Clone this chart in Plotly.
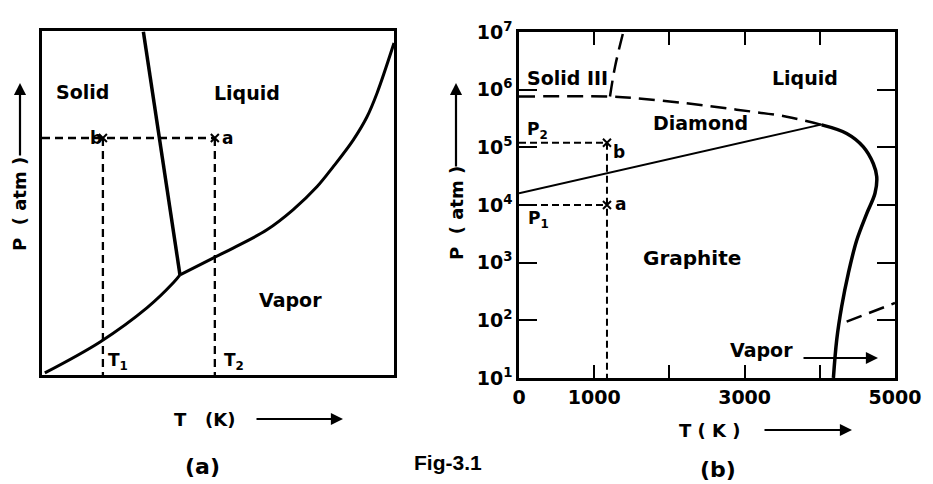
import math
import plotly.graph_objects as go

W, H = 933, 484
FONT = "DejaVu Sans"

# ---------- Panel (a): generic phase diagram (arbitrary units 0..10) ----------
a_melt_x = [2.88, 3.92]
a_melt_y = [9.98, 2.91]
a_subl_x = [0.08, 1.65, 2.98, 3.73, 3.92]
a_subl_y = [0.06, 0.96, 1.95, 2.68, 2.91]
a_vap_x = [3.92, 4.86, 5.43, 6.39, 7.13, 7.81, 8.27, 8.84, 9.23, 9.52, 10.0]
a_vap_y = [2.91, 3.40, 3.69, 4.22, 4.80, 5.47, 6.05, 6.83, 7.50, 8.20, 9.65]
a_P = 6.89
a_T1 = 1.73
a_T2 = 4.91

# ---------- Panel (b): carbon phase diagram ----------
b_gd_T = [0, 4030]
b_gd_P = [1.6e4, 2.5e5]
b_upper_T = [0, 1210, 1565, 2230, 2895, 3560, 4025]
b_upper_P = [7.6e5, 7.6e5, 7.1e5, 5.8e5, 4.5e5, 3.4e5, 2.45e5]
b_s3_T = [1210, 1277, 1387]
b_s3_P = [7.6e5, 2.5e6, 1.0e7]
b_melt_T = [4025, 4357, 4579, 4712, 4757, 4734, 4624, 4491, 4380, 4291, 4225, 4181]
b_melt_P = [2.45e5, 1.74e5, 1.02e5, 5.2e4, 3.1e4, 1.6e4, 7.1e3, 2.45e3, 660, 174, 46, 10]
b_vapdash_T = [4357, 5000]
b_vapdash_P = [95, 200]
b_T = 1170
b_P1 = 1.0e4
b_P2 = 1.2e5

x_tickvals = [0, 1000, 2000, 3000, 4000, 5000]
x_ticktext = ["0", "1000", "", "3000", "", "5000"]
y_tickvals = [1e1, 1e2, 1e3, 1e4, 1e5, 1e6, 1e7]
y_ticktext = ["10<sup>%d</sup>" % k for k in range(1, 8)]

fig = go.Figure()

dash_a = dict(color="black", width=2.3, dash="8px,5px")
dash_b = dict(color="black", width=2, dash="7px,4px")
bigdash = dict(color="black", width=2.5, dash="16px,8px")

# panel a traces
fig.add_trace(go.Scatter(x=a_melt_x, y=a_melt_y, mode="lines", line=dict(color="black", width=3.5), xaxis="x", yaxis="y"))
fig.add_trace(go.Scatter(x=a_subl_x, y=a_subl_y, mode="lines", line=dict(color="black", width=3, shape="spline"), xaxis="x", yaxis="y"))
fig.add_trace(go.Scatter(x=a_vap_x, y=a_vap_y, mode="lines", line=dict(color="black", width=3, shape="spline"), xaxis="x", yaxis="y"))
fig.add_trace(go.Scatter(x=[0, a_T2], y=[a_P, a_P], mode="lines", line=dash_a, xaxis="x", yaxis="y"))
fig.add_trace(go.Scatter(x=[a_T1, a_T1], y=[a_P, 0], mode="lines", line=dash_a, xaxis="x", yaxis="y"))
fig.add_trace(go.Scatter(x=[a_T2, a_T2], y=[a_P, 0], mode="lines", line=dash_a, xaxis="x", yaxis="y"))
fig.add_trace(go.Scatter(x=[a_T1, a_T2], y=[a_P, a_P], mode="markers",
                         marker=dict(symbol="x-thin", size=8, line=dict(color="black", width=2)),
                         xaxis="x", yaxis="y"))

# panel b traces
fig.add_trace(go.Scatter(x=b_gd_T, y=b_gd_P, mode="lines", line=dict(color="black", width=2), xaxis="x2", yaxis="y2"))
fig.add_trace(go.Scatter(x=b_upper_T, y=b_upper_P, mode="lines", line=dict(bigdash, shape="spline"), xaxis="x2", yaxis="y2"))
fig.add_trace(go.Scatter(x=b_s3_T, y=b_s3_P, mode="lines", line=dict(bigdash, shape="spline"), xaxis="x2", yaxis="y2"))
fig.add_trace(go.Scatter(x=b_melt_T, y=b_melt_P, mode="lines", line=dict(color="black", width=3.5, shape="spline"), xaxis="x2", yaxis="y2"))
fig.add_trace(go.Scatter(x=b_vapdash_T, y=b_vapdash_P, mode="lines", line=bigdash, xaxis="x2", yaxis="y2"))
fig.add_trace(go.Scatter(x=[0, b_T], y=[b_P2, b_P2], mode="lines", line=dash_b, xaxis="x2", yaxis="y2"))
fig.add_trace(go.Scatter(x=[0, b_T], y=[b_P1, b_P1], mode="lines", line=dash_b, xaxis="x2", yaxis="y2"))
fig.add_trace(go.Scatter(x=[b_T, b_T], y=[b_P2, 10], mode="lines", line=dash_b, xaxis="x2", yaxis="y2"))
fig.add_trace(go.Scatter(x=[b_T, b_T], y=[b_P2, b_P1], mode="markers",
                         marker=dict(symbol="x-thin", size=8, line=dict(color="black", width=2)),
                         xaxis="x2", yaxis="y2"))

def px(x):
    return x / W

def py(y):
    return 1 - y / H

common = dict(showgrid=False, zeroline=False, automargin=False, linecolor="black")

fig.update_layout(
    template="none",
    width=W, height=H, showlegend=False,
    margin=dict(l=0, r=0, t=0, b=0, pad=0, autoexpand=False),
    paper_bgcolor="white", plot_bgcolor="white",
    font=dict(family=FONT, color="black", size=19, weight="bold"),
    xaxis=dict(common, domain=[px(42), px(394)], range=[0, 10], showline=True, mirror=True,
               linewidth=3, showticklabels=False, ticks="", anchor="y"),
    yaxis=dict(common, domain=[py(375), py(31)], range=[0, 10], showline=True, mirror=True,
               linewidth=3, showticklabels=False, ticks="", anchor="x"),
    xaxis2=dict(common, domain=[px(519), px(895)], range=[0, 5000], showline=True, mirror="ticks",
                linewidth=2.5, ticks="inside", ticklen=13, tickwidth=2, tickcolor="black",
                tickvals=x_tickvals, ticktext=x_ticktext,
                tickfont=dict(family=FONT, size=19, weight="bold"), anchor="y2"),
    yaxis2=dict(common, domain=[py(378), py(32)], type="log", range=[1, 7], showline=True, mirror="ticks",
                linewidth=2.5, ticks="inside", ticklen=18, tickwidth=2, tickcolor="black",
                tickvals=y_tickvals, ticktext=y_ticktext,
                tickfont=dict(family=FONT, size=19, weight="bold"), anchor="x2"),
)

ann = []
def txt(x, y, t, xref="x", yref="y", size=19, **kw):
    d = dict(x=x, y=y, text=t, xref=xref, yref=yref, showarrow=False,
             xanchor="center", yanchor="middle",
             font=dict(family=FONT, size=size, color="black", weight="bold"))
    d.update(kw)
    ann.append(d)

# panel a labels
txt(1.14, 8.23, "Solid")
txt(5.82, 8.20, "Liquid")
txt(7.05, 2.18, "Vapor")
txt(2.17, 0.38, "T<sub>1</sub>", size=17)
txt(5.45, 0.38, "T<sub>2</sub>", size=17)
txt(a_T1 - 0.2, a_P, "b", size=17)
txt(a_T2 + 0.35, a_P, "a", size=17)

# panel b labels (log axis: annotation y in log10 units)
txt(640, math.log10(1.58e6), "Solid III", xref="x2", yref="y2")
txt(3800, math.log10(1.58e6), "Liquid", xref="x2", yref="y2")
txt(2407, 5.42, "Diamond", xref="x2", yref="y2")
txt(2296, 3.08, "Graphite", xref="x2", yref="y2", size=20)
txt(3227, 1.49, "Vapor", xref="x2", yref="y2")
txt(240, 5.30, "P<sub>2</sub>", xref="x2", yref="y2", size=17)
txt(260, 3.74, "P<sub>1</sub>", xref="x2", yref="y2", size=17)
txt(1334, 4.92, "b", xref="x2", yref="y2", size=17)
txt(1356, 4.02, "a", xref="x2", yref="y2", size=17)

# axis titles (paper coords)
txt(px(20), py(204), "P  ( atm )", xref="paper", yref="paper", size=18, textangle=-90)
txt(px(456), py(213), "P  ( atm )", xref="paper", yref="paper", size=18, textangle=-90)
txt(px(204), py(419), "T   (K)", xref="paper", yref="paper", size=18)
txt(px(709), py(430), "T ( K )", xref="paper", yref="paper", size=18)
txt(px(202), py(466), "(a)", size=22, xref="paper", yref="paper")
txt(px(718), py(469), "(b)", size=22, xref="paper", yref="paper")
ann.append(dict(x=px(448), y=py(462), xref="paper", yref="paper", text="Fig-3.1", showarrow=False,
                xanchor="center", yanchor="middle",
                font=dict(family="Liberation Sans", size=21, color="black")))

# arrows
def arrow(hx, hy, tx, ty):
    ann.append(dict(x=px(hx), y=py(hy), xref="paper", yref="paper", text="", showarrow=True,
                    ax=tx - hx, ay=ty - hy, arrowhead=2, arrowsize=1.1, arrowwidth=2.2,
                    arrowcolor="black"))

arrow(20, 83, 20, 157)
arrow(456, 83, 456, 168)
arrow(343, 419, 255, 419)
arrow(852, 430, 763, 430)
arrow(878, 358, 802, 358)

fig.update_layout(annotations=ann)
fig.write_html("out.html", config={"displayModeBar": False},
               post_script="document.body.style.margin='0px';")
